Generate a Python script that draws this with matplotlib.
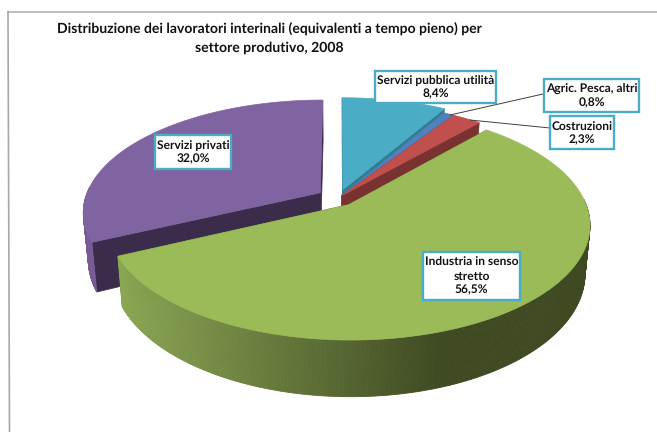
import numpy as np
import matplotlib
matplotlib.use("Agg")
import matplotlib.pyplot as plt
from matplotlib.patches import Polygon, Rectangle
from matplotlib.colors import to_rgb

title = "Distribuzione dei lavoratori interinali (equivalenti a tempo pieno) per\nsettore produtivo, 2008"

# clockwise from 12 o'clock
sectors = ["Servizi pubblica utilità", "Agric. Pesca, altri", "Costruzioni", "Industria in senso\nstretto", "Servizi privati"]
shares = [8.4, 0.8, 2.3, 56.5, 32.0]
share_labels = ["8,4%", "0,8%", "2,3%", "56,5%", "32,0%"]
explode = [0.08, 0.03, 0.03, 0.075, 0.09]

top_colors = ["#4bacc6", "#4f81bd", "#c0504d", "#9bbb59", "#8064a2"]
cut_colors = ["#2f7f93", "#2f5a8c", "#7a3230", "#4a5a28", "#3c2c4c"]

# pie projection (pixels)
cx, cy = 338, 198
rx, ry = 235, 110
persp = 0.169
depth = 46.5

plt.rcParams["font.family"] = ["Lato", "DejaVu Sans"]
plt.rcParams["text.hinting"] = "no_hinting"
plt.rcParams["text.hinting_factor"] = 1

fig = plt.figure(figsize=(6.57, 4.32), dpi=100)
ax = fig.add_axes([0, 0, 1, 1])
ax.set_xlim(0, 657)
ax.set_ylim(432, 0)
ax.axis("off")


def project(x, y, z=0.0):
    s = 1 / (1 + persp * y)
    return cx + rx * x * s * (1 - 0.02 * z), cy - ry * y * s + depth * s * z


def slice_geom(a0, a1, e):
    mid = np.radians((a0 + a1) / 2)
    ox, oy = e * np.sin(mid), e * np.cos(mid)
    t = np.radians(np.linspace(a0, a1, max(int(a1 - a0) * 2, 4)))
    return ox, oy, ox + np.sin(t), oy + np.cos(t)


def mix(c1, c2, f):
    a, b = np.array(to_rgb(c1)), np.array(to_rgb(c2))
    return tuple(a + (b - a) * f)


ends = np.cumsum(shares) / sum(shares) * 360
starts = np.r_[0, ends[:-1]]

# back to front: privati, pubblica, agric, costruzioni, industria
for i in [4, 0, 1, 2, 3]:
    ox, oy, xs, ys = slice_geom(starts[i], ends[i], explode[i])

    # radial cut faces
    for px, py in [(xs[0], ys[0]), (xs[-1], ys[-1])]:
        face = [project(ox, oy, 0), project(px, py, 0), project(px, py, 1), project(ox, oy, 1)]
        ax.add_patch(Polygon(face, closed=True, fc=cut_colors[i], ec=cut_colors[i], lw=0.5))

    # outer wall, only the part that faces the viewer
    for j in range(len(xs) - 1):
        if ys[j] - oy > 0.05 and ys[j + 1] - oy > 0.05:
            continue
        quad = [project(xs[j], ys[j], 0), project(xs[j + 1], ys[j + 1], 0),
                project(xs[j + 1], ys[j + 1], 1), project(xs[j], ys[j], 1)]
        f = np.clip((quad[0][0] - 120) / 320, 0, 1)
        if i == 3:
            col = mix("#8aa653", "#3f4a22", f)
        else:
            col = "#775a96"
        ax.add_patch(Polygon(quad, closed=True, fc=col, ec=col, lw=0.6))

    # top surface
    pts = [project(ox, oy)] + [project(a, b) for a, b in zip(xs, ys)]
    ax.add_patch(Polygon(pts, closed=True, fc=top_colors[i], ec=top_colors[i], lw=0.5))

# chart frame
ax.plot([8, 657], [11.5, 11.5], color="#b0b0b0", lw=1.2)
ax.plot([8, 9.5], [11.5, 432], color="#a8a8a8", lw=1.2)

ax.text(269, 38, title, ha="center", va="center", fontsize=10.4, fontweight="bold",
        color="#111111", linespacing=1.5)

# leader lines
ax.plot([543, 450], [94, 115], color="#404040", lw=0.7, zorder=6)
ax.plot([550, 470], [128, 120], color="#404040", lw=0.7, zorder=6)

# label boxes: left, top, right, bottom
boxes = [(375, 71, 496, 103), (544, 79, 639, 112), (550, 116, 614, 149),
         (423, 252, 520, 300), (155, 135, 231, 169)]
for name, val, (l, t, r, b) in zip(sectors, share_labels, boxes):
    ax.add_patch(Rectangle((l, t), r - l, b - t, fc="white", ec="#4bacc6", lw=1.7, zorder=7))
    ax.text((l + r) / 2, (t + b) / 2 + 0.5, name + "\n" + val, ha="center", va="center",
            fontsize=8.6, fontweight="bold", color="#111111", linespacing=1.3, zorder=8)

fig.savefig("out.png", dpi=100)
